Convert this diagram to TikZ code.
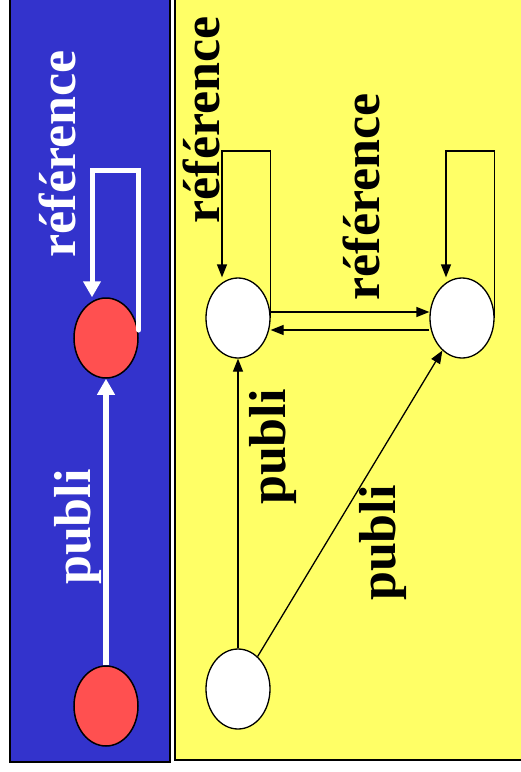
\documentclass[tikz,border=0pt]{standalone}
\usepackage{fontspec}
\setmainfont{Liberation Serif}
\usetikzlibrary{arrows.meta,calc,shapes.geometric}
\definecolor{panelblue}{RGB}{51,51,204}
\definecolor{panelyellow}{RGB}{255,255,102}
\definecolor{nodered}{RGB}{255,80,80}
\begin{document}
\begin{tikzpicture}[x=1pt,y=-1pt,
  panel/.style={draw=black, line width=2pt},
  rednode/.style={ellipse, draw=black, line width=1.5pt, fill=nodered, minimum width=64pt, minimum height=80pt, inner sep=0pt},
  whitenode/.style={ellipse, draw=black, line width=1.3pt, fill=white, minimum width=64pt, minimum height=80pt, inner sep=0pt},
  whitearrow/.style={draw=white, -{Triangle[length=16pt,width=17pt]}},
  blackarrow/.style={draw=black, line width=1.3pt, -{Triangle[length=13pt,width=10pt]}},
  bluelabel/.style={text=white, font=\fontsize{52}{60}\selectfont\bfseries, rotate=90, anchor=base, inner sep=0pt},
  yellowlabel/.style={text=black, font=\fontsize{52}{60}\selectfont\bfseries, rotate=90, anchor=base, inner sep=0pt}]
\useasboundingbox (0,0) rectangle (521,772);
\fill[white] (0,0) rectangle (521,772);
\draw[panel, fill=panelblue] (10,-10) rectangle (170,762);
\draw[panel, fill=panelyellow] (174.5,-10) rectangle (530,760);

% labels
\node[bluelabel] (lref) at (75,154) {référence};
\node[bluelabel] (lpub) at (90,527) {publi};
\node[yellowlabel] (yref1) at (219,120) {référence};
\node[yellowlabel] (yref2) at (379,197) {référence};
\node[yellowlabel] (ypub1) at (285,447) {publi};
\node[yellowlabel] (ypub2) at (395,543) {publi};

% nodes
\node[rednode] (r1) at (106,338) {};
\node[rednode] (r2) at (106,706) {};
\node[whitenode] (A) at (238,318) {};
\node[whitenode] (B) at (462,318) {};
\node[whitenode] (C) at (238,689) {};

% blue connectors
\draw[whitearrow, line width=6pt] (r2.north) -- (r1.south);
\draw[whitearrow, line width=5pt, line cap=round] ($(r1.east)+(0,-8)$) -- ($(r1.east)+(0,-168)$) -| ($(r1.north)+(-14,0)$);

% yellow connectors
\draw[blackarrow] (A.east) -- ($(A.east)+(0,-167)$) -| ($(A.north)+(-16,0)$);
\draw[blackarrow] (B.east) -- ($(B.east)+(0,-167)$) -| ($(B.north)+(-16,0)$);
\draw[blackarrow] ($(A.east)+(0,-6)$) -- ($(B.west)+(0,-6)$);
\draw[blackarrow] ($(B.west)+(0,12)$) -- ($(A.east)+(0,12)$);
\draw[blackarrow] (C.north) -- (A.south);
\draw[blackarrow] (C) -- (B);
\end{tikzpicture}
\end{document}
